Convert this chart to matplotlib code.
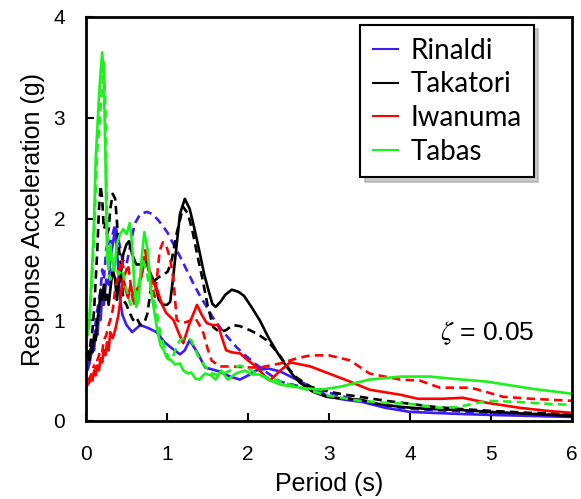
import matplotlib
matplotlib.use("Agg")
import matplotlib.pyplot as plt
import numpy as np

# ---------------- data ----------------
names = ["Rinaldi", "Takatori", "Iwanuma", "Tabas"]

rinaldi_1_T = [0.02, 0.05, 0.08, 0.1, 0.12, 0.14, 0.16, 0.18, 0.2, 0.22, 0.25, 0.28, 0.3, 0.33, 0.36, 0.38, 0.4, 0.42, 0.45, 0.5, 0.57, 0.67, 0.77, 0.87, 0.97, 1.06, 1.16, 1.22, 1.28, 1.38, 1.47, 1.56, 1.65, 1.78, 1.9, 2.0, 2.1, 2.25, 2.4, 2.6, 2.77, 3.0, 3.2, 3.4, 3.7, 4.0, 4.3, 4.6, 5.0, 5.5, 6.0]
rinaldi_1_A = [0.52, 0.6, 0.75, 0.7, 0.9, 0.85, 1.05, 1.0, 1.25, 1.15, 1.4, 1.35, 1.6, 1.75, 1.9, 1.7, 1.5, 1.2, 1.05, 0.95, 0.88, 0.95, 0.92, 0.88, 0.78, 0.72, 0.66, 0.7, 0.8, 0.67, 0.53, 0.51, 0.49, 0.44, 0.41, 0.45, 0.5, 0.52, 0.49, 0.41, 0.34, 0.24, 0.21, 0.19, 0.13, 0.09, 0.08, 0.07, 0.06, 0.05, 0.04]

rinaldi_2_T = [0.02, 0.05, 0.08, 0.1, 0.12, 0.15, 0.18, 0.2, 0.22, 0.25, 0.28, 0.3, 0.33, 0.36, 0.4, 0.45, 0.5, 0.55, 0.6, 0.67, 0.75, 0.82, 0.89, 0.95, 1.01, 1.08, 1.16, 1.24, 1.32, 1.4, 1.49, 1.57, 1.65, 1.75, 1.86, 1.98, 2.1, 2.25, 2.4, 2.6, 2.77, 3.0, 3.38, 3.7, 4.0, 4.5, 5.0, 5.5, 6.0]
rinaldi_2_A = [0.5, 0.6, 0.8, 0.75, 1.0, 1.15, 1.3, 1.5, 1.4, 1.7, 1.8, 1.75, 1.85, 1.95, 1.8, 1.6, 1.55, 1.75, 1.95, 2.05, 2.07, 2.05, 1.99, 1.93, 1.86, 1.75, 1.63, 1.5, 1.37, 1.25, 1.13, 1.02, 0.93, 0.83, 0.73, 0.64, 0.56, 0.47, 0.39, 0.35, 0.33, 0.28, 0.2, 0.15, 0.12, 0.1, 0.08, 0.07, 0.06]

takatori_1_T = [0.02, 0.04, 0.06, 0.08, 0.1, 0.12, 0.14, 0.16, 0.18, 0.2, 0.22, 0.24, 0.26, 0.28, 0.3, 0.33, 0.36, 0.38, 0.4, 0.42, 0.46, 0.5, 0.53, 0.57, 0.62, 0.68, 0.74, 0.8, 0.85, 0.9, 0.95, 1.0, 1.04, 1.08, 1.12, 1.16, 1.22, 1.28, 1.34, 1.4, 1.46, 1.51, 1.56, 1.6, 1.66, 1.72, 1.8, 1.88, 1.95, 2.05, 2.15, 2.25, 2.36, 2.45, 2.55, 2.64, 2.8, 2.97, 3.2, 3.4, 3.6, 3.88, 4.2, 4.6, 5.0, 5.5, 6.0]
takatori_1_A = [0.65, 0.6, 0.72, 0.68, 0.85, 0.8, 1.0, 1.1, 1.3, 1.2, 1.35, 1.2, 1.25, 1.15, 1.3, 1.5, 1.4, 1.2, 1.35, 1.4, 1.65, 1.75, 1.78, 1.65, 1.55, 1.55, 1.58, 1.45, 1.37, 1.2, 1.15, 1.15, 1.18, 1.45, 1.75, 2.05, 2.2, 2.1, 1.9, 1.68, 1.45, 1.3, 1.16, 1.13, 1.18, 1.25, 1.3, 1.28, 1.24, 1.12, 0.99, 0.83, 0.68, 0.57, 0.46, 0.38, 0.29, 0.24, 0.22, 0.21, 0.17, 0.14, 0.12, 0.11, 0.09, 0.07, 0.05]

takatori_2_T = [0.02, 0.04, 0.06, 0.08, 0.1, 0.12, 0.14, 0.16, 0.18, 0.2, 0.22, 0.24, 0.26, 0.28, 0.3, 0.33, 0.36, 0.38, 0.4, 0.43, 0.46, 0.5, 0.54, 0.58, 0.62, 0.67, 0.72, 0.76, 0.81, 0.86, 0.91, 0.96, 1.01, 1.06, 1.12, 1.2, 1.26, 1.32, 1.38, 1.44, 1.5, 1.57, 1.65, 1.73, 1.81, 1.9, 2.02, 2.12, 2.23, 2.32, 2.4, 2.5, 2.6, 2.77, 3.0, 3.2, 3.38, 3.7, 4.0, 4.3, 4.6, 5.0, 5.5, 6.0]
takatori_2_A = [0.7, 0.65, 0.8, 0.9, 1.1, 1.4, 1.7, 2.1, 2.33, 2.2, 1.9, 1.95, 1.85, 1.9, 2.1, 2.25, 2.2, 2.0, 1.75, 1.55, 1.2, 1.15, 1.07, 1.0, 1.03, 0.95, 0.97, 1.07, 1.37, 1.4, 1.43, 1.45, 1.48, 1.6, 1.86, 2.12, 2.05, 1.86, 1.62, 1.4, 1.15, 0.93, 0.88, 0.9, 0.95, 0.94, 0.9, 0.86, 0.8, 0.72, 0.64, 0.52, 0.43, 0.34, 0.29, 0.26, 0.24, 0.2, 0.17, 0.14, 0.12, 0.1, 0.08, 0.07]

iwanuma_1_T = [0.02, 0.04, 0.06, 0.08, 0.1, 0.12, 0.14, 0.16, 0.18, 0.2, 0.22, 0.24, 0.26, 0.28, 0.3, 0.33, 0.36, 0.4, 0.42, 0.44, 0.46, 0.49, 0.52, 0.55, 0.58, 0.62, 0.65, 0.7, 0.75, 0.78, 0.81, 0.88, 0.94, 0.99, 1.08, 1.14, 1.2, 1.28, 1.37, 1.43, 1.49, 1.56, 1.63, 1.68, 1.73, 1.8, 1.9, 2.0, 2.1, 2.2, 2.27, 2.4, 2.52, 2.65, 2.77, 3.0, 3.26, 3.5, 3.88, 4.1, 4.4, 4.65, 4.95, 5.36, 5.7, 6.0]
iwanuma_1_A = [0.36, 0.38, 0.42, 0.4, 0.5, 0.45, 0.55, 0.5, 0.62, 0.58, 0.7, 0.65, 0.78, 0.7, 0.88, 0.82, 0.9, 1.05, 1.17, 1.3, 1.43, 1.3, 1.22, 1.35, 1.25, 1.3, 1.33, 1.5, 1.66, 1.5, 1.4, 1.3, 1.15, 1.07, 1.0, 0.88, 0.77, 0.97, 1.15, 1.05, 0.97, 0.95, 0.95, 0.82, 0.7, 0.68, 0.67, 0.6, 0.54, 0.45, 0.4, 0.5, 0.58, 0.56, 0.54, 0.47, 0.39, 0.31, 0.26, 0.22, 0.22, 0.23, 0.18, 0.13, 0.1, 0.08]

iwanuma_2_T = [0.02, 0.04, 0.06, 0.08, 0.1, 0.12, 0.14, 0.16, 0.18, 0.2, 0.22, 0.25, 0.28, 0.3, 0.33, 0.36, 0.4, 0.44, 0.48, 0.52, 0.56, 0.59, 0.62, 0.66, 0.7, 0.73, 0.77, 0.81, 0.85, 0.88, 0.91, 0.95, 0.99, 1.04, 1.08, 1.12, 1.18, 1.24, 1.3, 1.35, 1.4, 1.45, 1.5, 1.55, 1.65, 1.8, 2.0, 2.15, 2.4, 2.6, 2.77, 3.0, 3.26, 3.5, 3.88, 4.12, 4.37, 4.75, 5.15, 5.5, 6.0]
iwanuma_2_A = [0.4, 0.42, 0.45, 0.5, 0.55, 0.52, 0.6, 0.65, 0.7, 0.68, 0.8, 0.85, 0.95, 1.0, 1.1, 1.3, 1.45, 1.6, 1.45, 1.55, 1.3, 1.14, 1.25, 1.33, 1.5, 1.69, 1.5, 1.35, 1.23, 1.45, 1.69, 1.77, 1.74, 1.6, 1.4, 1.0, 0.97, 0.98, 1.0, 1.02, 0.95, 0.87, 0.72, 0.6, 0.54, 0.54, 0.53, 0.53, 0.57, 0.62, 0.65, 0.65, 0.6, 0.47, 0.41, 0.4, 0.33, 0.33, 0.24, 0.22, 0.2]

tabas_1_T = [0.02, 0.04, 0.06, 0.08, 0.1, 0.12, 0.14, 0.16, 0.18, 0.2, 0.22, 0.24, 0.26, 0.28, 0.3, 0.32, 0.35, 0.38, 0.42, 0.46, 0.5, 0.54, 0.57, 0.6, 0.62, 0.65, 0.68, 0.72, 0.76, 0.8, 0.84, 0.88, 0.92, 0.96, 1.0, 1.05, 1.1, 1.16, 1.2, 1.26, 1.3, 1.35, 1.4, 1.47, 1.55, 1.6, 1.67, 1.75, 1.85, 1.96, 2.05, 2.15, 2.25, 2.4, 2.64, 2.9, 3.14, 3.5, 3.88, 4.25, 4.5, 4.95, 5.5, 6.0]
tabas_1_A = [0.85, 0.95, 1.3, 1.6, 2.0, 2.6, 2.9, 3.2, 3.45, 3.65, 3.4, 2.6, 1.6, 1.5, 1.75, 1.6, 1.5, 1.75, 1.85, 1.9, 1.85, 1.96, 1.75, 1.3, 1.13, 1.2, 1.55, 1.87, 1.7, 1.3, 1.1, 0.9, 0.75, 0.7, 0.62, 0.6, 0.56, 0.57, 0.5, 0.47, 0.48, 0.42, 0.41, 0.47, 0.45, 0.41, 0.5, 0.41, 0.47, 0.5, 0.46, 0.46, 0.41, 0.36, 0.33, 0.31, 0.34, 0.41, 0.44, 0.44, 0.42, 0.39, 0.32, 0.27]

tabas_2_T = [0.02, 0.04, 0.06, 0.08, 0.1, 0.12, 0.14, 0.16, 0.18, 0.2, 0.22, 0.24, 0.26, 0.28, 0.3, 0.33, 0.36, 0.4, 0.45, 0.5, 0.55, 0.6, 0.65, 0.7, 0.74, 0.78, 0.82, 0.87, 0.92, 0.97, 1.02, 1.06, 1.1, 1.16, 1.24, 1.3, 1.38, 1.46, 1.56, 1.65, 1.78, 1.9, 2.0, 2.15, 2.3, 2.4, 2.6, 2.77, 3.0, 3.38, 3.7, 4.0, 4.37, 4.6, 4.95, 5.3, 5.7, 6.0]
tabas_2_A = [0.9, 1.0, 1.2, 1.5, 1.8, 2.3, 2.7, 2.85, 3.1, 3.3, 3.55, 3.1, 2.0, 1.45, 1.4, 1.5, 1.55, 1.45, 1.5, 1.3, 1.15, 1.2, 1.35, 1.6, 1.5, 1.35, 1.25, 1.1, 0.85, 0.73, 0.62, 0.6, 0.7, 0.8, 0.83, 0.8, 0.65, 0.55, 0.47, 0.45, 0.5, 0.55, 0.52, 0.45, 0.42, 0.39, 0.34, 0.3, 0.25, 0.2, 0.18, 0.17, 0.13, 0.14, 0.2, 0.19, 0.17, 0.16]

colors = ["#3b1cf2", "#000000", "#ff0000", "#1ef01e"]
x_ticks = [0, 1, 2, 3, 4, 5, 6]
y_ticks = [0, 1, 2, 3, 4]

series = [
    (rinaldi_1_T, rinaldi_1_A, rinaldi_2_T, rinaldi_2_A),
    (takatori_1_T, takatori_1_A, takatori_2_T, takatori_2_A),
    (iwanuma_1_T, iwanuma_1_A, iwanuma_2_T, iwanuma_2_A),
    (tabas_1_T, tabas_1_A, tabas_2_T, tabas_2_A),
]

# ---------------- figure ----------------
plt.rcParams['font.family'] = ['Liberation Sans', 'DejaVu Sans']
plt.rcParams['mathtext.fontset'] = 'stix'

fig = plt.figure(figsize=(5.81, 4.99), dpi=100)
ax = fig.add_axes([86 / 581, 78 / 499, 486 / 581, 404 / 499])

lw = 1.9
for name, c, (t1, a1, t2, a2) in zip(names, colors, series):
    ax.plot(t1, a1, color=c, lw=lw, label=name, solid_joinstyle='round')
    ax.plot(t2, a2, color=c, lw=lw, ls=(0, (3.2, 2.0)))

ax.set_xlim(0, 6)
ax.set_ylim(0, 4)
ax.set_xticks(x_ticks)
ax.set_yticks(y_ticks)
ax.tick_params(direction='in', length=6, width=1.5, labelsize=15,
               top=False, right=False)
ax.tick_params(axis='x', pad=17)
ax.tick_params(axis='y', pad=15)
for s in ax.spines.values():
    s.set_linewidth(2)

ax.set_xlabel("Period (s)", fontsize=18, labelpad=6)
ax.set_ylabel("Response Acceleration (g)", fontsize=18, labelpad=6)

ax.text(4.37, 0.87, r"$\zeta$ = 0.05", fontsize=19, va='center', ha='left')

leg = ax.legend(loc='upper right', bbox_to_anchor=(0.922, 0.98),
                borderaxespad=0,
                prop={'family': 'Lato', 'size': 20},
                handlelength=0.9, handletextpad=0.45, labelspacing=0.28,
                borderpad=0.45, fancybox=False, framealpha=1,
                edgecolor='black',
                shadow={'ox': 3, 'oy': -3, 'color': '#999999', 'alpha': 0.5})
leg.get_frame().set_linewidth(1.5)
for h in leg.get_lines():
    h.set_linewidth(1.5)

fig.savefig("out.png", dpi=100)
